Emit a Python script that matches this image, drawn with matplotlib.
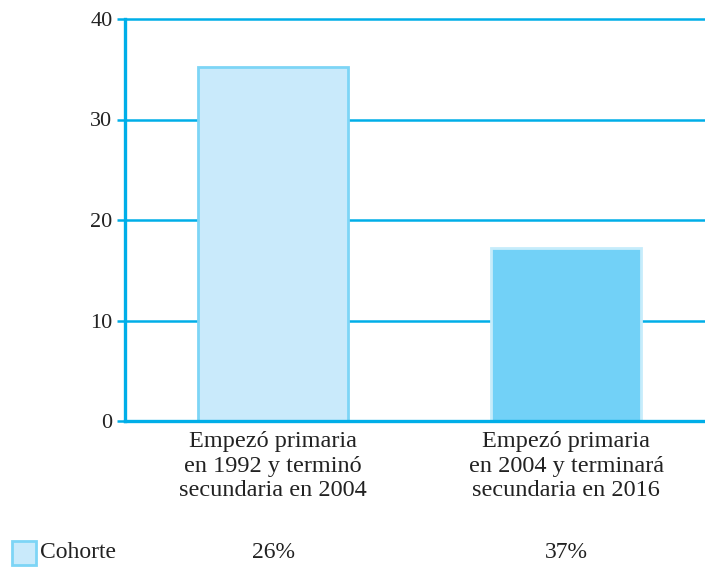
import matplotlib
matplotlib.use("Agg")
import matplotlib.pyplot as plt
from matplotlib.patches import Rectangle

categories = ["Empezó primaria\nen 1992 y terminó\nsecundaria en 2004",
              "Empezó primaria\nen 2004 y terminará\nsecundaria en 2016"]
values = [35.2, 17.2]
legend_label = "Cohorte"
row_values = ["26%", "37%"]
yticks = [0, 10, 20, 30, 40]

blue = "#00aee8"
fills = ["#c9eafb", "#72d1f7"]
edges = ["#7dd5f6", "#c6ecfb"]
txt = "#222222"

plt.rcParams['font.family'] = ['Liberation Serif', 'DejaVu Serif']

fig = plt.figure(figsize=(7.05, 5.67), dpi=100)
ax = fig.add_axes([125/705, 1-421/567, 580/705, (421-19)/567])

x = [0, 1]
for xi, v, fc, ec in zip(x, values, fills, edges):
    ax.bar(xi, v, width=0.512, color=fc, edgecolor=ec, linewidth=2, zorder=3)

ax.set_xlim(-0.505, 1.474)
ax.set_ylim(0, 40)
ax.set_yticks(yticks)
ax.set_yticklabels([str(t) for t in yticks], fontsize=16, color=txt)
ax.yaxis.grid(True, color=blue, linewidth=1.8, zorder=0)
for gl in ax.get_ygridlines():
    gl.set_clip_on(False)
ax.set_axisbelow(True)
ax.tick_params(axis='y', length=6, width=1.8, color=blue, pad=3)
ax.set_xticks(x)
ax.set_xticklabels(categories, fontsize=17.5, color=txt, linespacing=1.24)
ax.tick_params(axis='x', length=0, pad=7)

for s in ["top", "right"]:
    ax.spines[s].set_visible(False)
for s in ["left", "bottom"]:
    ax.spines[s].set_color(blue)
    ax.spines[s].set_linewidth(2.4)
    ax.spines[s].set_zorder(4)

# legend / table row
fig.patches.append(Rectangle((12/705, 1-565/567), 24/705, 24/567,
                             transform=fig.transFigure, facecolor=fills[0],
                             edgecolor=edges[0], linewidth=2))
fig.text(40/705, 1-553/567, legend_label, fontsize=17, color=txt,
         va="center", ha="left")
for xi, t in zip(x, row_values):
    xd = ax.transData.transform((xi, 0))[0]
    xf = fig.transFigure.inverted().transform((xd, 0))[0]
    fig.text(xf, 1-553/567, t, fontsize=17, color=txt, va="center", ha="center")

fig.savefig("out.png", dpi=100)
